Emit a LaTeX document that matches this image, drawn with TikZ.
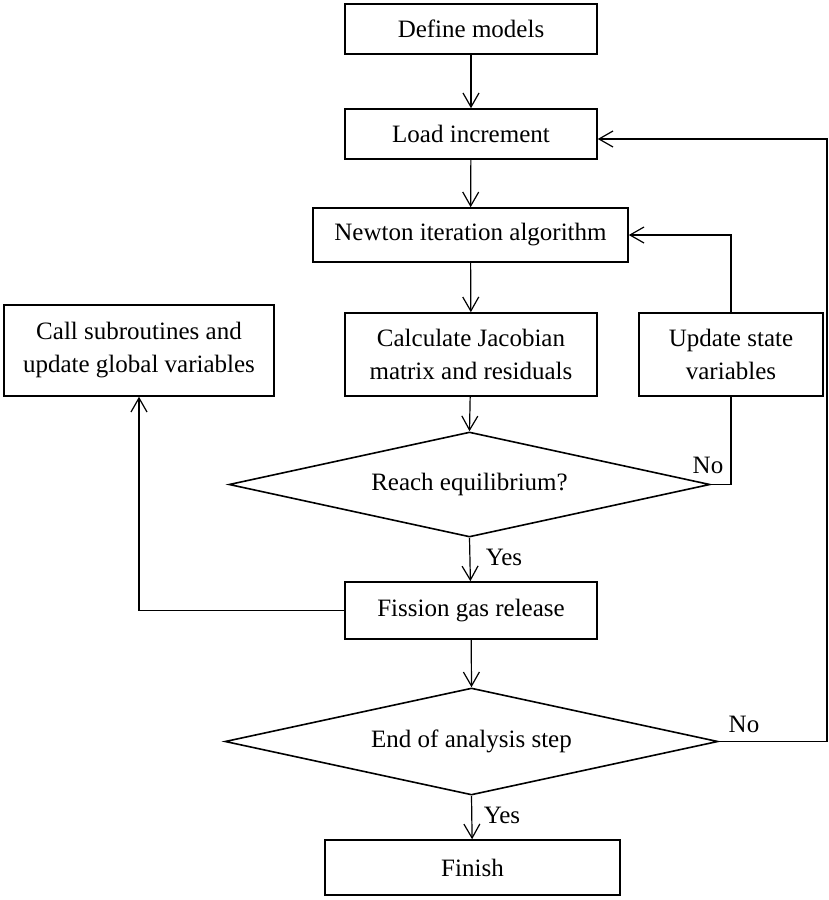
\documentclass[tikz,border=0pt]{standalone}
\usepackage{fontspec}
\setmainfont{Liberation Serif}
\usetikzlibrary{shapes.geometric,arrows.meta}
\begin{document}
\begin{tikzpicture}[x=0.5pt,y=-0.5pt,
  txt/.style={font=\fontsize{12.5}{16.5}\selectfont},
  box/.style={txt,draw,line width=0.8pt,inner sep=0pt,align=center},
  dia/.style={txt,draw,diamond,line width=0.8pt,inner sep=0pt,shape aspect=4.6},
  conn/.style={line width=0.6pt},
  arr/.style={conn,-{Straight Barb[length=7pt,width=8pt]}},
  lbl/.style={txt,inner sep=0pt,anchor=base}]
\useasboundingbox (0,0) rectangle (829,900);
\node[box,minimum width=126pt,minimum height=25pt] (def) at (471,29) {Define models};
\node[box,minimum width=126pt,minimum height=25pt] (load) at (471,134) {Load increment};
\node[box,minimum width=157.5pt,minimum height=27pt] (newton) at (470.5,235) {Newton iteration algorithm};
\node[box,minimum width=126pt,minimum height=41.5pt] (calc) at (471,354.5) {Calculate Jacobian\\matrix and residuals};
\node[box,minimum width=92pt,minimum height=41.5pt] (upd) at (731,354.5) {Update state\\variables};
\node[box,minimum width=135pt,minimum height=45.5pt] (call) at (139,350.5) {Call subroutines and\\update global variables};
\node[dia,minimum width=240.5pt,minimum height=52.5pt] (reach) at (469.5,484.5) {Reach equilibrium?};
\node[box,minimum width=126pt,minimum height=28.5pt] (fission) at (471,610.5) {Fission gas release};
\node[dia,minimum width=246.5pt,minimum height=53.5pt] (end) at (471.5,741.5) {End of analysis step};
\node[box,minimum width=147.5pt,minimum height=27.5pt] (finish) at (472.5,867.5) {Finish};
\coordinate (rt) at (827,741.5);

\draw[arr] (def) -- (load);
\draw[arr] (load) -- (newton);
\draw[arr] (newton) -- (calc);
\draw[arr] (calc) -- (reach.north);
\draw[arr] (reach.south) -- (fission);
\draw[arr] (fission) -- (end.north);
\draw[arr] (end.south) -- (finish);
\draw[conn] (reach.east) -| (upd.south);
\draw[arr] (upd.north) |- (newton.east);
\draw[arr] (end.east) -- (rt) |- ([yshift=-2.5pt]load.east);
\draw[arr] (fission.west) -| (call.south);

\node[lbl] (no1) at (708,473) {No};
\node[lbl] (yes1) at (504,565) {Yes};
\node[lbl] (no2) at (744,732) {No};
\node[lbl] (yes2) at (502,823) {Yes};
\end{tikzpicture}
\end{document}
